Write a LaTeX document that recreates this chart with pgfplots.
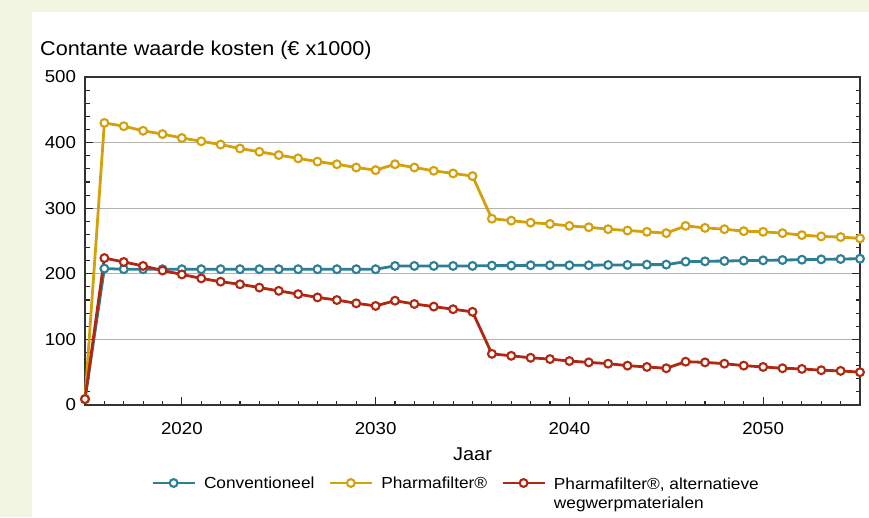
\documentclass[border=0pt]{standalone}
\usepackage{fontspec}
\setmainfont{Liberation Sans}[FakeStretch=1.08]
\usepackage{pgfplots}
\pgfplotsset{compat=1.18}
\definecolor{bgband}{RGB}{242,245,226}
\definecolor{cblue}{RGB}{46,126,150}
\definecolor{cgold}{RGB}{212,160,12}
\definecolor{cred}{RGB}{176,40,18}
\begin{document}
\begin{tikzpicture}[x=1pt,y=1pt]
\useasboundingbox (0,0) rectangle (869,517);
\fill[bgband] (0,0) rectangle (869,517);
\fill[white] (32,0) rectangle (869,505);
\node[anchor=base west, inner sep=0pt, font=\fontsize{20}{24}\selectfont] at (40,461) {Contante waarde kosten (€ x1000)};
\begin{axis}[
  at={(85pt,112pt)}, anchor=south west,
  scale only axis, width=775pt, height=328pt,
  xmin=2015, xmax=2055, ymin=0, ymax=500,
  clip=false,
  xtick={2020,2030,2040,2050},
  minor xtick={2015,2016,...,2055},
  ytick={0,100,...,500},
  minor ytick={20,40,...,480},
  xtick pos=left,
  ytick pos=both,
  tick align=inside,
  major tick length=8pt,
  minor tick length=4.5pt,
  tick style={black!85, line width=1.1pt},
  axis line style={black!80, line width=1.4pt},
  ymajorgrids,
  major grid style={gray!60, line width=1pt},
  /pgf/number format/assume math mode=true,
  /pgf/number format/1000 sep={},
  tick label style={font=\fontsize{17.3}{20}\selectfont},
  xticklabel style={anchor=base, yshift=-29pt},
  yticklabel style={xshift=-5.5pt},
  xlabel={Jaar},
  xlabel style={at={(axis description cs:0.5,-0.1677)}, anchor=base, font=\fontsize{18.5}{22}\selectfont},
  legend columns=3,
  legend cell align=left,
  legend style={at={(axis description cs:0.0813,-0.2378)}, anchor=west,
    draw=none, fill=none, font=\fontsize{16}{19.5}\selectfont,
    /tikz/every even column/.append style={column sep=12pt}},
  legend image code/.code={\draw[mark repeat=2,mark phase=2,#1] plot coordinates {(0pt,0pt) (21pt,0pt) (42pt,0pt)}; \path (48pt,0pt);},
  every axis plot/.append style={line width=2.8pt, mark=*, mark size=3.9pt, mark options={solid, fill=white, line width=2.1pt}},
]
\addplot[cblue] coordinates {
(2015,9) (2016,208) (2017,207) (2018,207) (2019,207) (2020,207) (2021,207) (2022,207) (2023,207) (2024,207) (2025,207) (2026,207) (2027,207) (2028,207) (2029,207) (2030,207)
(2031,212) (2032,212) (2033,212) (2034,212) (2035,212) (2036,212.5) (2037,212.5) (2038,213) (2039,213) (2040,213) (2041,213) (2042,213.5) (2043,213.5) (2044,214) (2045,214)
(2046,218.5) (2047,219) (2048,219.5) (2049,220) (2050,220.5) (2051,221) (2052,221.5) (2053,222) (2054,222.5) (2055,223)
};
\addlegendentry{Conventioneel}
\addplot[cgold] coordinates {
(2015,9) (2016,430) (2017,425) (2018,418) (2019,413) (2020,407) (2021,402) (2022,397) (2023,391) (2024,386) (2025,381) (2026,376) (2027,371) (2028,367) (2029,362) (2030,358)
(2031,367) (2032,362) (2033,357) (2034,353) (2035,349) (2036,284) (2037,281) (2038,278) (2039,276) (2040,273) (2041,271) (2042,268) (2043,266) (2044,264) (2045,262)
(2046,273) (2047,270) (2048,268) (2049,265) (2050,264) (2051,262) (2052,259) (2053,257) (2054,256) (2055,254)
};
\addlegendentry{Pharmafilter®}
\addplot[cred] coordinates {
(2015,9) (2016,224) (2017,218) (2018,212) (2019,205) (2020,199) (2021,193) (2022,188) (2023,184) (2024,179) (2025,174) (2026,169) (2027,164) (2028,160) (2029,155) (2030,151)
(2031,159) (2032,154) (2033,150) (2034,146) (2035,142) (2036,78) (2037,75) (2038,72) (2039,70) (2040,67) (2041,65) (2042,63) (2043,60) (2044,58) (2045,56)
(2046,66) (2047,65) (2048,63) (2049,60) (2050,58) (2051,56) (2052,55) (2053,53) (2054,52) (2055,50)
};
\addlegendentry{\begin{tabular}[t]{@{}l@{}}Pharmafilter®, alternatieve\\wegwerpmaterialen\end{tabular}}
\end{axis}
\end{tikzpicture}
\end{document}
